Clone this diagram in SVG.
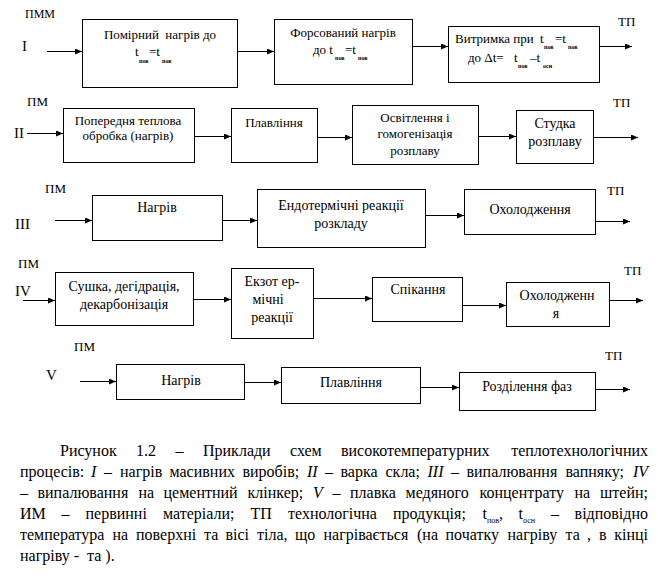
<svg xmlns="http://www.w3.org/2000/svg" width="658" height="579" viewBox="0 0 658 579" font-family="'Liberation Serif', 'DejaVu Serif', serif">
<style>
.b{fill:#fff;stroke:#000;stroke-width:1}
text{font-family:'Liberation Serif','DejaVu Serif',serif;fill:#000}
.s13{font-size:13px}
.s14{font-size:14px}
.s12{font-size:12px}
.m{text-anchor:middle}
.n{font-size:15px}
.sub{font-size:6px;font-weight:bold}
.cap{font-size:16px}
.csub{font-size:8px}
.i{font-style:italic}
.pre{white-space:pre}
.c line{stroke:#000;stroke-width:1;marker-end:url(#ah)}
</style>
<defs>
<marker id="ah" markerUnits="userSpaceOnUse" markerWidth="8" markerHeight="6" refX="7" refY="3" orient="auto">
<path d="M0,0 L7,3 L0,6 z" fill="#000"/>
</marker>
</defs>
<rect width="658" height="579" fill="#fff"/>

<!-- Row I -->
<g id="labels1">
<text class="s12" x="25" y="18">ПММ</text>
<text class="n" x="22" y="51">I</text>
<text class="s13" x="618" y="26">ТП</text>
</g>
<g id="n1a">
<rect class="b" x="82.5" y="19.5" width="155" height="68"/>
<text class="s13 m pre" x="160" y="39">Помірний  нагрів до</text>
<text class="s13" x="135" y="56">t</text><text class="sub" x="139" y="63">пов</text>
<text class="s13" x="149" y="56">=t</text><text class="sub" x="162" y="63">пов</text>
</g>
<g id="n1b">
<rect class="b" x="274.5" y="19.5" width="138" height="65"/>
<text class="s13 m" x="343" y="37">Форсований нагрів</text>
<text class="s13" x="313" y="54">до t</text><text class="sub" x="335" y="60">пов</text>
<text class="s13" x="345" y="54">=t</text><text class="sub" x="358" y="60">пов</text>
</g>
<g id="n1c">
<rect class="b" x="448.5" y="26.5" width="151" height="56"/>
<text class="s13" x="455" y="43">Витримка при</text>
<text class="s13" x="540" y="43">t</text><text class="sub" x="544" y="49">пов</text>
<text class="s13" x="555" y="43">=t</text><text class="sub" x="568" y="49">пов</text>
<text class="s13" x="468" y="62">до Δt=</text>
<text class="s13" x="514" y="62">t</text><text class="sub" x="518" y="68">пов</text>
<text class="s13" x="530" y="62">–t</text><text class="sub" x="543" y="68">осн</text>
</g>

<!-- Row II -->
<g id="labels2">
<text class="s13" x="27" y="106">ПМ</text>
<text class="n" x="14" y="138">II</text>
<text class="s13" x="613" y="107">ТП</text>
</g>
<g id="n2a">
<rect class="b" x="63.5" y="108.5" width="131" height="54"/>
<text class="s13 m" x="128" y="125">Попередня теплова</text>
<text class="s13 m" x="128" y="140">обробка (нагрів)</text>
</g>
<g id="n2b">
<rect class="b" x="231.5" y="108.5" width="86" height="54"/>
<text class="s13 m" x="274" y="127">Плавління</text>
</g>
<g id="n2c">
<rect class="b" x="352.5" y="105.5" width="126" height="59"/>
<text class="s13 m" x="415" y="122">Освітлення і</text>
<text class="s13 m" x="415" y="138">гомогенізація</text>
<text class="s13 m" x="415" y="155">розплаву</text>
</g>
<g id="n2d">
<rect class="b" x="516.5" y="110.5" width="77" height="53"/>
<text class="s14 m" x="555" y="128">Студка</text>
<text class="s14 m" x="555" y="146">розплаву</text>
</g>

<!-- Row III -->
<g id="labels3">
<text class="s13" x="45" y="193">ПМ</text>
<text class="n" x="15" y="229">III</text>
<text class="s13" x="607" y="195">ТП</text>
</g>
<g id="n3a">
<rect class="b" x="92.5" y="195.5" width="130" height="45"/>
<text class="s14 m" x="157" y="212">Нагрів</text>
</g>
<g id="n3b">
<rect class="b" x="257.5" y="189.5" width="168" height="58"/>
<text class="s14 m" x="341" y="210">Ендотермічні реакції</text>
<text class="s14 m" x="341" y="228">розкладу</text>
</g>
<g id="n3c">
<rect class="b" x="464.5" y="189.5" width="131" height="45"/>
<text class="s14 m" x="530" y="214">Охолодження</text>
</g>

<!-- Row IV -->
<g id="labels4">
<text class="s13" x="18" y="268">ПМ</text>
<text class="n" x="15" y="296">IV</text>
<text class="s13" x="624" y="275">ТП</text>
</g>
<g id="n4a">
<rect class="b" x="55.5" y="272.5" width="138" height="53"/>
<text class="s14 m" x="124" y="291">Сушка, дегідрація,</text>
<text class="s14 m" x="124" y="309">декарбонізація</text>
</g>
<g id="n4b">
<rect class="b" x="231.5" y="268.5" width="82" height="70"/>
<text class="s14 m" x="272" y="286">Екзот ер-</text>
<text class="s14 m" x="268" y="304">мічні</text>
<text class="s14 m" x="272" y="322">реакції</text>
</g>
<g id="n4c">
<rect class="b" x="372.5" y="277.5" width="90" height="44"/>
<text class="s14 m" x="418" y="294">Спікання</text>
</g>
<g id="n4d">
<rect class="b" x="506.5" y="282.5" width="103" height="44"/>
<text class="s14 m" x="557" y="300">Охолодженн</text>
<text class="s14 m" x="556" y="318">я</text>
</g>

<!-- Row V -->
<g id="labels5">
<text class="s13" x="74" y="351">ПМ</text>
<text class="n" x="46" y="380">V</text>
<text class="s13" x="605" y="360">ТП</text>
</g>
<g id="n5a">
<rect class="b" x="116.5" y="364.5" width="128" height="35"/>
<text class="s14 m" x="181" y="385">Нагрів</text>
</g>
<g id="n5b">
<rect class="b" x="281.5" y="367.5" width="139" height="36"/>
<text class="s14 m" x="351" y="387">Плавління</text>
</g>
<g id="n5c">
<rect class="b" x="459.5" y="372.5" width="136" height="38"/>
<text class="s14 m" x="527" y="391">Розділення фаз</text>
</g>

<g id="connectors" class="c">
<line x1="47" y1="51.5" x2="82" y2="51.5"/>
<line x1="237" y1="51.5" x2="274" y2="51.5"/>
<line x1="412" y1="46.5" x2="448" y2="46.5"/>
<line x1="599" y1="46.5" x2="632" y2="46.5"/>

<line x1="27" y1="133.5" x2="63" y2="133.5"/>
<line x1="194" y1="136.5" x2="231" y2="136.5"/>
<line x1="317" y1="137.5" x2="352" y2="137.5"/>
<line x1="478" y1="136.5" x2="516" y2="136.5"/>
<line x1="593" y1="137.5" x2="638" y2="137.5"/>

<line x1="55" y1="220.5" x2="92" y2="220.5"/>
<line x1="222" y1="220.5" x2="257" y2="220.5"/>
<line x1="425" y1="215.5" x2="464" y2="215.5"/>
<line x1="595" y1="221.5" x2="630" y2="221.5"/>

<line x1="23" y1="300.5" x2="55" y2="300.5"/>
<line x1="193" y1="299.5" x2="231" y2="299.5"/>
<line x1="313" y1="298.5" x2="372" y2="298.5"/>
<line x1="462" y1="305.5" x2="506" y2="305.5"/>
<line x1="609" y1="300.5" x2="643" y2="300.5"/>

<line x1="80" y1="381.5" x2="116" y2="381.5"/>
<line x1="244" y1="382.5" x2="281" y2="382.5"/>
<line x1="420" y1="387.5" x2="459" y2="387.5"/>
<line x1="595" y1="389.5" x2="630" y2="389.5"/>
</g>

<g id="caption" class="cap">
<text y="456"><tspan x="60">Рисунок</tspan><tspan x="136">1.2</tspan><tspan x="175.5">–</tspan><tspan x="203">Приклади</tspan><tspan x="290">схем</tspan><tspan x="341">високотемпературних</tspan><tspan x="648" text-anchor="end">теплотехнологічних</tspan></text>
<text y="477"><tspan x="20">процесів:</tspan><tspan class="i" x="91">I</tspan><tspan x="104">–</tspan><tspan x="120">нагрів</tspan><tspan x="169.5">масивних</tspan><tspan x="242.5">виробів;</tspan><tspan class="i" x="307">II</tspan><tspan x="325">–</tspan><tspan x="340.5">варка</tspan><tspan x="385.5">скла;</tspan><tspan class="i" x="427.5">III</tspan><tspan x="451">–</tspan><tspan x="466.5">випалювання</tspan><tspan x="565.5">вапняку;</tspan><tspan class="i" x="648" text-anchor="end">IV</tspan></text>
<text y="498"><tspan x="20">–</tspan><tspan x="37.5">випалювання</tspan><tspan x="138.5">на</tspan><tspan x="163.5">цементний</tspan><tspan x="247.5">клінкер;</tspan><tspan class="i" x="313">V</tspan><tspan x="332.5">–</tspan><tspan x="350">плавка</tspan><tspan x="405.5">медяного</tspan><tspan x="479.5">концентрату</tspan><tspan x="574.5">на</tspan><tspan x="648" text-anchor="end">штейн;</tspan></text>
<text y="519"><tspan x="20">ИМ</tspan><tspan x="61.5">–</tspan><tspan x="85.5">первинні</tspan><tspan x="163">матеріали;</tspan><tspan x="250.5">ТП</tspan><tspan x="288">технологічна</tspan><tspan x="393">продукція;</tspan><tspan x="482.5">t</tspan><tspan x="518.5">t</tspan><tspan x="551">–</tspan><tspan x="648" text-anchor="end">відповідно</tspan></text>
<text class="csub" x="487" y="523">пов</text>
<text x="499" y="519">,</text>
<text class="csub" x="523" y="523">осн</text>
<text y="540"><tspan x="20">температура</tspan><tspan x="112.5">на</tspan><tspan x="136">поверхні</tspan><tspan x="204">та</tspan><tspan x="225.5">вісі</tspan><tspan x="257">тіла,</tspan><tspan x="295">що</tspan><tspan x="323.5">нагрівається</tspan><tspan x="417">(на</tspan><tspan x="445.5">початку</tspan><tspan x="507.5">нагріву</tspan><tspan x="565.5">та</tspan><tspan x="587">,</tspan><tspan x="599">в</tspan><tspan x="648" text-anchor="end">кінці</tspan></text>
<text class="pre" x="20" y="561">нагріву -  та ).</text>
</g>
</svg>
